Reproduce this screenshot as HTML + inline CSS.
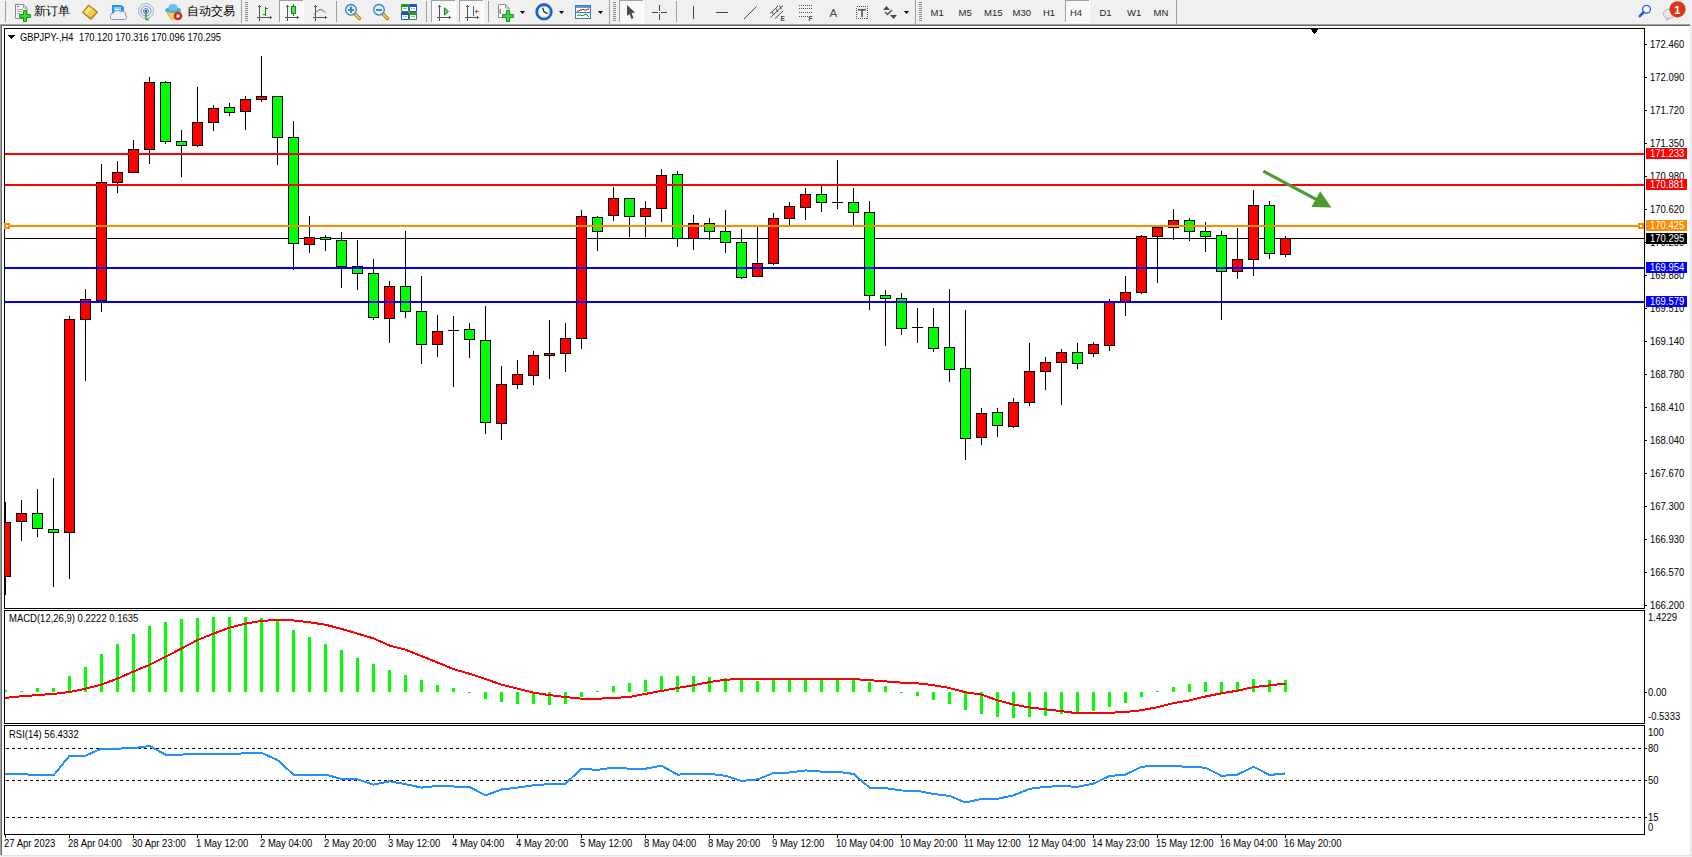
<!DOCTYPE html>
<html><head><meta charset="utf-8"><title>MT4</title>
<style>
html,body{margin:0;padding:0;background:#f0f0f0;width:1692px;height:857px;overflow:hidden;}
svg{position:absolute;left:0;top:0;display:block;}
text{font-family:"Liberation Sans",sans-serif;}
</style></head><body>
<svg width="1692" height="857" viewBox="0 0 1692 857">
<rect x="0" y="0" width="1692" height="24" fill="#f0f0f0"/>
<g font-family="Liberation Sans, sans-serif">
<rect x="5" y="1" width="1" height="21" fill="#a0a0a0" shape-rendering="crispEdges"/>
<path d="M15.5,4.5 h8 l3.5,3.5 v10.5 h-11.5 z" fill="#fbfbfb" stroke="#8a8a8a"/><path d="M23.5,4.5 v3.5 h3.5" fill="none" stroke="#9a9a9a"/><rect x="17" y="6" width="2" height="1" fill="#777"/><rect x="17" y="9" width="6" height="1" fill="#aaa"/><rect x="17" y="11" width="5" height="1" fill="#aaa"/><rect x="17" y="13" width="3" height="1" fill="#aaa"/>
<path d="M23.5,10.5 h3 v4 h4 v3 h-4 v4 h-3 v-4 h-4 v-3 h4 z" fill="#3ad83a" stroke="#129a12" stroke-width="1"/>
<text x="34" y="15" font-size="12" font-weight="500" fill="#000">新订单</text>
<path d="M82.5,12.5 L88.5,5 L97.5,12 L91,19.5 Z" fill="#d89a20" stroke="#a8680c" stroke-width="1"/><path d="M84,12 L89,6.5 L96,12 L90.5,17.5 Z" fill="#f2cf52"/><path d="M84,12 L89,6.5 L92,9 L87,14.5 Z" fill="#f8e27a"/>
<path d="M112,5 h9 l3,2 v8 h-12 z" fill="#2a92e6"/><rect x="114" y="7" width="7" height="6" fill="#8fd0ff"/><rect x="115" y="9" width="4" height="1" fill="#fff"/><path d="M110.5,17 a3,3 0 0 1 3,-4 a4,4 0 0 1 7,-1 a3,3 0 0 1 5,3 a2.5,2.5 0 0 1 -1,4.5 h-12 a2,2 0 0 1 -2,-2.5 z" fill="#eef1f6" stroke="#8894aa" stroke-width="1"/>
<circle cx="146" cy="11" r="7.5" fill="none" stroke="#9db4dc" stroke-width="1"/><circle cx="146" cy="11" r="5" fill="none" stroke="#7a9ad0" stroke-width="1"/><circle cx="146" cy="11" r="2.5" fill="none" stroke="#5a80c4" stroke-width="1"/><circle cx="146" cy="11" r="1.3" fill="#2a58b0"/><path d="M146,12 V19.5 h3" fill="none" stroke="#2aa62a" stroke-width="1.4"/>
<path d="M166,11 L181,11 L177,19 L171,19 Z" fill="#f0d64a" stroke="#c8a830" stroke-width="0.8"/><ellipse cx="173" cy="10" rx="8" ry="3" fill="#4aa6e0"/><ellipse cx="173" cy="7.5" rx="4.5" ry="3.5" fill="#6cc0ee"/><circle cx="178" cy="16" r="4.3" fill="#d42a1a"/><rect x="176.5" y="14.5" width="3" height="3" fill="#fff"/>
<text x="187" y="15" font-size="12" font-weight="500" fill="#000">自动交易</text>
<rect x="241" y="0" width="1" height="23" fill="#a0a0a0" shape-rendering="crispEdges"/>
<rect x="245" y="2" width="3" height="1" fill="#8c8c8c" shape-rendering="crispEdges"/>
<rect x="245" y="4" width="3" height="1" fill="#8c8c8c" shape-rendering="crispEdges"/>
<rect x="245" y="6" width="3" height="1" fill="#8c8c8c" shape-rendering="crispEdges"/>
<rect x="245" y="8" width="3" height="1" fill="#8c8c8c" shape-rendering="crispEdges"/>
<rect x="245" y="10" width="3" height="1" fill="#8c8c8c" shape-rendering="crispEdges"/>
<rect x="245" y="12" width="3" height="1" fill="#8c8c8c" shape-rendering="crispEdges"/>
<rect x="245" y="14" width="3" height="1" fill="#8c8c8c" shape-rendering="crispEdges"/>
<rect x="245" y="16" width="3" height="1" fill="#8c8c8c" shape-rendering="crispEdges"/>
<rect x="245" y="18" width="3" height="1" fill="#8c8c8c" shape-rendering="crispEdges"/>
<rect x="245" y="20" width="3" height="1" fill="#8c8c8c" shape-rendering="crispEdges"/>
<g fill="#555" shape-rendering="crispEdges"><rect x="259" y="6" width="1" height="15"/><rect x="258" y="6" width="3" height="1"/><rect x="259" y="5" width="1" height="1"/><rect x="257" y="17" width="14" height="1"/><rect x="270" y="16" width="1" height="3"/><rect x="271" y="17" width="1" height="1"/></g>
<g fill="#138a13" shape-rendering="crispEdges"><rect x="265" y="7" width="1" height="9"/><rect x="266" y="8" width="2" height="1"/><rect x="263" y="14" width="2" height="1"/></g>
<rect x="279" y="0" width="25" height="22" fill="#f8f8f8" shape-rendering="crispEdges"/>
<rect x="279" y="0" width="25" height="1" fill="#a0a0a0" shape-rendering="crispEdges"/>
<rect x="279" y="0" width="1" height="22" fill="#a0a0a0" shape-rendering="crispEdges"/>
<rect x="279" y="22" width="25" height="1" fill="#ffffff" shape-rendering="crispEdges"/>
<rect x="303" y="0" width="1" height="22" fill="#ffffff" shape-rendering="crispEdges"/>
<g fill="#555" shape-rendering="crispEdges"><rect x="287" y="6" width="1" height="15"/><rect x="286" y="6" width="3" height="1"/><rect x="287" y="5" width="1" height="1"/><rect x="285" y="17" width="13" height="1"/><rect x="297" y="16" width="1" height="3"/><rect x="298" y="17" width="1" height="1"/></g>
<rect x="291.5" y="6.5" width="4" height="7" fill="#52e052" stroke="#0e8a0e"/><rect x="293" y="4" width="1" height="12" fill="#0e8a0e" shape-rendering="crispEdges"/><rect x="292" y="7" width="3" height="6" fill="#52e052" shape-rendering="crispEdges"/>
<g fill="#555" shape-rendering="crispEdges"><rect x="315" y="6" width="1" height="15"/><rect x="314" y="6" width="3" height="1"/><rect x="315" y="5" width="1" height="1"/><rect x="313" y="17" width="13" height="1"/><rect x="325" y="16" width="1" height="3"/><rect x="326" y="17" width="1" height="1"/></g>
<path d="M314,14.5 Q317.5,10 320,9.3 Q322.5,9.5 325.5,12.8" fill="none" stroke="#2a9a2a" stroke-width="1"/>
<rect x="336" y="1" width="1" height="21" fill="#a0a0a0" shape-rendering="crispEdges"/>
<path d="M355,14 L359.5,18.5" stroke="#b07818" stroke-width="3.2" stroke-linecap="round"/><path d="M355,14 L359.5,18.5" stroke="#f2d84a" stroke-width="1.6" stroke-linecap="round"/><circle cx="351" cy="9.8" r="5.3" fill="#dcf2fd" stroke="#3a82cc" stroke-width="1.3"/><rect x="348" y="9" width="6" height="2" fill="#4a8aae"/><rect x="350" y="6.5" width="2" height="6.5" fill="#4a8aae"/>
<path d="M383,14 L387.5,18.5" stroke="#b07818" stroke-width="3.2" stroke-linecap="round"/><path d="M383,14 L387.5,18.5" stroke="#f2d84a" stroke-width="1.6" stroke-linecap="round"/><circle cx="379" cy="9.8" r="5.3" fill="#dcf2fd" stroke="#3a82cc" stroke-width="1.3"/><rect x="376" y="9" width="6" height="2" fill="#4a8aae"/>
<rect x="401" y="4" width="8" height="8" rx="1" fill="#2a9a1e"/><rect x="409" y="4" width="8" height="8" rx="1" fill="#1f50d0"/><rect x="401" y="12" width="8" height="8" rx="1" fill="#1f50d0"/><rect x="409" y="12" width="8" height="8" rx="1" fill="#2a9a1e"/><g fill="#fff" shape-rendering="crispEdges"><rect x="402" y="7" width="6" height="4"/><rect x="410" y="7" width="6" height="4"/><rect x="402" y="15" width="6" height="4"/><rect x="410" y="15" width="6" height="4"/></g><g fill="#8ac88a" shape-rendering="crispEdges"><rect x="403" y="8" width="4" height="1"/><rect x="411" y="16" width="4" height="1"/></g><g fill="#8aa8e8" shape-rendering="crispEdges"><rect x="411" y="8" width="1" height="1"/><rect x="413" y="8" width="2" height="1"/><rect x="403" y="16" width="1" height="1"/><rect x="405" y="16" width="2" height="1"/></g>
<rect x="426" y="1" width="1" height="21" fill="#a0a0a0" shape-rendering="crispEdges"/>
<rect x="431" y="0" width="25" height="22" fill="#f8f8f8" shape-rendering="crispEdges"/>
<rect x="431" y="0" width="25" height="1" fill="#a0a0a0" shape-rendering="crispEdges"/>
<rect x="431" y="0" width="1" height="22" fill="#a0a0a0" shape-rendering="crispEdges"/>
<rect x="431" y="22" width="25" height="1" fill="#ffffff" shape-rendering="crispEdges"/>
<rect x="455" y="0" width="1" height="22" fill="#ffffff" shape-rendering="crispEdges"/>
<g fill="#555" shape-rendering="crispEdges"><rect x="439" y="6" width="1" height="15"/><rect x="438" y="6" width="3" height="1"/><rect x="439" y="5" width="1" height="1"/><rect x="437" y="17" width="13" height="1"/><rect x="449" y="16" width="1" height="3"/><rect x="450" y="17" width="1" height="1"/></g>
<path d="M444.5,8 L448.5,11.5 L444.5,15 Z" fill="#5ad85a" stroke="#0e8a0e" stroke-width="1"/>
<rect x="459" y="0" width="25" height="22" fill="#f8f8f8" shape-rendering="crispEdges"/>
<rect x="459" y="0" width="25" height="1" fill="#a0a0a0" shape-rendering="crispEdges"/>
<rect x="459" y="0" width="1" height="22" fill="#a0a0a0" shape-rendering="crispEdges"/>
<rect x="459" y="22" width="25" height="1" fill="#ffffff" shape-rendering="crispEdges"/>
<rect x="483" y="0" width="1" height="22" fill="#ffffff" shape-rendering="crispEdges"/>
<g fill="#555" shape-rendering="crispEdges"><rect x="467" y="6" width="1" height="15"/><rect x="466" y="6" width="3" height="1"/><rect x="467" y="5" width="1" height="1"/><rect x="465" y="17" width="13" height="1"/><rect x="477" y="16" width="1" height="3"/><rect x="478" y="17" width="1" height="1"/></g>
<rect x="473" y="6" width="1" height="10" fill="#1a6aa8" shape-rendering="crispEdges"/><path d="M474.5,11.5 L477,9.5 L477,11 L479,11 L479,12 L477,12 L477,13.5 Z" fill="#e04a10"/>
<rect x="488" y="1" width="1" height="21" fill="#a0a0a0" shape-rendering="crispEdges"/>
<path d="M498.5,4.5 h7 l3.5,3.5 v9.5 h-10.5 z" fill="#fbfbfb" stroke="#8a8a8a"/><path d="M505.5,4.5 v3.5 h3.5" fill="none" stroke="#9a9a9a"/><path d="M500.5,9 q-1,2 0,5" fill="none" stroke="#555"/>
<path d="M506.5,10.5 h3 v4 h4 v3 h-4 v4 h-3 v-4 h-4 v-3 h4 z" fill="#3ad83a" stroke="#129a12" stroke-width="1"/>
<path d="M520,11 L525,11 L522.5,14 Z" fill="#000"/>
<circle cx="544" cy="11.8" r="7.1" fill="#fbfbfb" stroke="#1b66cc" stroke-width="2.4"/><circle cx="544" cy="11.8" r="8.3" fill="none" stroke="#0f4aa0" stroke-width="0.6"/><g fill="#888"><rect x="543.5" y="6" width="1" height="1"/><rect x="543.5" y="16.5" width="1" height="1"/><rect x="538.5" y="11.3" width="1" height="1"/><rect x="548.5" y="11.3" width="1" height="1"/></g><path d="M542.6,7.6 L544,11.8 L547.6,13.6" fill="none" stroke="#222" stroke-width="1.2"/>
<path d="M559,11 L564,11 L561.5,14 Z" fill="#000"/>
<rect x="575.5" y="5.5" width="15" height="13" fill="#fff" stroke="#3a78c0"/><rect x="576" y="6" width="14" height="2" fill="#5a98dc"/><rect x="576" y="12" width="14" height="1" fill="#3a78c0"/><path d="M577,11 L579,11 L580,10 L582,10 L583,9 L584,10 L586,10 L588,9 L589,9" fill="none" stroke="#a01a10" stroke-width="1"/><path d="M577,16 L579,15 L581,15 L582,16 L584,15 L586,14 L589,17" fill="none" stroke="#1a8a1a" stroke-width="1"/>
<path d="M598,11 L603,11 L600.5,14 Z" fill="#000"/>
<rect x="609" y="0" width="1" height="24" fill="#a0a0a0" shape-rendering="crispEdges"/>
<rect x="613" y="2" width="3" height="1" fill="#8c8c8c" shape-rendering="crispEdges"/>
<rect x="613" y="4" width="3" height="1" fill="#8c8c8c" shape-rendering="crispEdges"/>
<rect x="613" y="6" width="3" height="1" fill="#8c8c8c" shape-rendering="crispEdges"/>
<rect x="613" y="8" width="3" height="1" fill="#8c8c8c" shape-rendering="crispEdges"/>
<rect x="613" y="10" width="3" height="1" fill="#8c8c8c" shape-rendering="crispEdges"/>
<rect x="613" y="12" width="3" height="1" fill="#8c8c8c" shape-rendering="crispEdges"/>
<rect x="613" y="14" width="3" height="1" fill="#8c8c8c" shape-rendering="crispEdges"/>
<rect x="613" y="16" width="3" height="1" fill="#8c8c8c" shape-rendering="crispEdges"/>
<rect x="613" y="18" width="3" height="1" fill="#8c8c8c" shape-rendering="crispEdges"/>
<rect x="613" y="20" width="3" height="1" fill="#8c8c8c" shape-rendering="crispEdges"/>
<rect x="619" y="0" width="25" height="22" fill="#f8f8f8" shape-rendering="crispEdges"/>
<rect x="619" y="0" width="25" height="1" fill="#a0a0a0" shape-rendering="crispEdges"/>
<rect x="619" y="0" width="1" height="22" fill="#a0a0a0" shape-rendering="crispEdges"/>
<rect x="619" y="22" width="25" height="1" fill="#ffffff" shape-rendering="crispEdges"/>
<rect x="643" y="0" width="1" height="22" fill="#ffffff" shape-rendering="crispEdges"/>
<path d="M627,5 L627,16 L629.5,14 L631.5,19 L633.5,18 L631.5,13 L635,12.5 Z" fill="#4a4a4a"/>
<g fill="#444" shape-rendering="crispEdges"><rect x="659" y="5" width="1" height="6"/><rect x="659" y="14" width="1" height="6"/><rect x="652" y="12" width="6" height="1"/><rect x="661" y="12" width="6" height="1"/><rect x="659" y="12" width="1" height="1"/></g>
<rect x="676" y="1" width="1" height="21" fill="#a0a0a0" shape-rendering="crispEdges"/>
<rect x="693" y="6" width="1" height="13" fill="#444" shape-rendering="crispEdges"/>
<rect x="716" y="12" width="12" height="1" fill="#444" shape-rendering="crispEdges"/>
<path d="M744,19 L756.5,6.5" stroke="#444" stroke-width="1"/>
<path d="M770,13.5 L778,6 M770.5,17.5 L783,5.5 M775,18.5 L783,11 M772,12 L774,15 M776,8.5 L778,12 M779.5,5.5 L781.5,9" stroke="#444" stroke-width="1" fill="none"/><text x="780.5" y="21" font-size="6.5" font-weight="bold" fill="#444">E</text>
<path d="M799,5.5 H813 M799,8.5 H813 M799,12.5 H813 M799,16.5 H808" stroke="#555" stroke-dasharray="1 1" fill="none" shape-rendering="crispEdges"/><text x="808.5" y="21" font-size="6.5" font-weight="bold" fill="#444">F</text>
<text x="829.5" y="17" font-size="11.5" fill="#4a4a4a">A</text>
<rect x="856.5" y="6.5" width="11" height="12" fill="none" stroke="#555" stroke-dasharray="1 1" shape-rendering="crispEdges"/><rect x="858" y="9" width="8" height="1.5" fill="#4a4a4a"/><rect x="861.3" y="9" width="1.5" height="8" fill="#4a4a4a"/>
<path d="M883,10 L886.5,6 L890,10 Z" fill="#4a4a4a"/><path d="M890,15 L893.5,19 L897,15 Z" fill="#4a4a4a"/><path d="M885,12 L887.5,14.5 L892,10" fill="none" stroke="#4a4a4a" stroke-width="1.3"/>
<path d="M904,11 L909,11 L906.5,14 Z" fill="#000"/>
<rect x="915" y="0" width="1" height="24" fill="#a0a0a0" shape-rendering="crispEdges"/>
<rect x="919" y="2" width="3" height="1" fill="#8c8c8c" shape-rendering="crispEdges"/>
<rect x="919" y="4" width="3" height="1" fill="#8c8c8c" shape-rendering="crispEdges"/>
<rect x="919" y="6" width="3" height="1" fill="#8c8c8c" shape-rendering="crispEdges"/>
<rect x="919" y="8" width="3" height="1" fill="#8c8c8c" shape-rendering="crispEdges"/>
<rect x="919" y="10" width="3" height="1" fill="#8c8c8c" shape-rendering="crispEdges"/>
<rect x="919" y="12" width="3" height="1" fill="#8c8c8c" shape-rendering="crispEdges"/>
<rect x="919" y="14" width="3" height="1" fill="#8c8c8c" shape-rendering="crispEdges"/>
<rect x="919" y="16" width="3" height="1" fill="#8c8c8c" shape-rendering="crispEdges"/>
<rect x="919" y="18" width="3" height="1" fill="#8c8c8c" shape-rendering="crispEdges"/>
<rect x="919" y="20" width="3" height="1" fill="#8c8c8c" shape-rendering="crispEdges"/>
<rect x="1065" y="0" width="25" height="22" fill="#f8f8f8" shape-rendering="crispEdges"/>
<rect x="1065" y="0" width="25" height="1" fill="#a0a0a0" shape-rendering="crispEdges"/>
<rect x="1065" y="0" width="1" height="22" fill="#a0a0a0" shape-rendering="crispEdges"/>
<rect x="1065" y="22" width="25" height="1" fill="#ffffff" shape-rendering="crispEdges"/>
<rect x="1089" y="0" width="1" height="22" fill="#ffffff" shape-rendering="crispEdges"/>
<text x="930.5" y="16" font-size="9.5" fill="#262626">M1</text>
<text x="958.5" y="16" font-size="9.5" fill="#262626">M5</text>
<text x="984" y="16" font-size="9.5" fill="#262626">M15</text>
<text x="1012.5" y="16" font-size="9.5" fill="#262626">M30</text>
<text x="1043" y="16" font-size="9.5" fill="#262626">H1</text>
<text x="1070" y="16" font-size="9.5" fill="#262626">H4</text>
<text x="1099.5" y="16" font-size="9.5" fill="#262626">D1</text>
<text x="1127" y="16" font-size="9.5" fill="#262626">W1</text>
<text x="1153.5" y="16" font-size="9.5" fill="#262626">MN</text>
<rect x="1176" y="0" width="1" height="24" fill="#a0a0a0" shape-rendering="crispEdges"/>
<circle cx="1646.5" cy="9.3" r="3.9" fill="#f4f6ff" stroke="#2a5ad8" stroke-width="1.3"/><path d="M1643.5,12.3 L1639.8,16.2" stroke="#2a5ad8" stroke-width="2.6" stroke-linecap="round"/>
<path d="M1667,18 L1666.5,20.5 L1669.5,18" fill="#c8ccd4" stroke="#999" stroke-width="0.6"/><ellipse cx="1669" cy="13.8" rx="5.8" ry="4.6" fill="#e6e8ee" stroke="#aaa" stroke-width="0.8"/><circle cx="1677.5" cy="9.3" r="8.1" fill="#dc3618"/><text x="1674.2" y="13.9" font-size="11" font-weight="bold" fill="#fff" font-family="Liberation Serif, serif">1</text>
</g>
<g shape-rendering="crispEdges" font-family="Liberation Sans, sans-serif">
<rect x="0" y="24" width="1692" height="833" fill="#ffffff"/>
<rect x="0" y="24" width="1691" height="1" fill="#a0a0a0"/>
<rect x="0" y="25" width="1690" height="1" fill="#696969"/>
<rect x="0" y="24" width="1" height="833" fill="#a0a0a0"/>
<rect x="1" y="25" width="1" height="831" fill="#696969"/>
<rect x="1690" y="24" width="1" height="833" fill="#e3e3e3"/>
<rect x="0" y="855" width="1691" height="1" fill="#e3e3e3"/>
<rect x="1691" y="24" width="1" height="833" fill="#f0f0f0"/>
<rect x="0" y="856" width="1692" height="1" fill="#f0f0f0"/>
<defs><clipPath id="main"><rect x="5" y="29" width="1639" height="579"/></clipPath><clipPath id="macd"><rect x="5" y="611" width="1639" height="112"/></clipPath><clipPath id="rsi"><rect x="5" y="726" width="1639" height="108"/></clipPath></defs>
<g clip-path="url(#main)">
<rect x="5" y="238" width="1639" height="1" fill="#000000"/>
<rect x="5" y="502" width="1" height="93" fill="#000"/>
<rect x="0" y="522" width="11" height="55" fill="#000"/>
<rect x="1" y="523" width="9" height="53" fill="#ff0000"/>
<rect x="21" y="500" width="1" height="41" fill="#000"/>
<rect x="16" y="513" width="11" height="9" fill="#000"/>
<rect x="17" y="514" width="9" height="7" fill="#ff0000"/>
<rect x="37" y="489" width="1" height="48" fill="#000"/>
<rect x="32" y="513" width="11" height="16" fill="#000"/>
<rect x="33" y="514" width="9" height="14" fill="#00ff00"/>
<rect x="53" y="478" width="1" height="109" fill="#000"/>
<rect x="48" y="529" width="11" height="4" fill="#000"/>
<rect x="49" y="530" width="9" height="2" fill="#00ff00"/>
<rect x="69" y="316" width="1" height="263" fill="#000"/>
<rect x="64" y="319" width="11" height="214" fill="#000"/>
<rect x="65" y="320" width="9" height="212" fill="#ff0000"/>
<rect x="85" y="289" width="1" height="92" fill="#000"/>
<rect x="80" y="299" width="11" height="21" fill="#000"/>
<rect x="81" y="300" width="9" height="19" fill="#ff0000"/>
<rect x="101" y="164" width="1" height="148" fill="#000"/>
<rect x="96" y="182" width="11" height="119" fill="#000"/>
<rect x="97" y="183" width="9" height="117" fill="#ff0000"/>
<rect x="117" y="161" width="1" height="32" fill="#000"/>
<rect x="112" y="172" width="11" height="11" fill="#000"/>
<rect x="113" y="173" width="9" height="9" fill="#ff0000"/>
<rect x="133" y="140" width="1" height="33" fill="#000"/>
<rect x="128" y="149" width="11" height="24" fill="#000"/>
<rect x="129" y="150" width="9" height="22" fill="#ff0000"/>
<rect x="149" y="77" width="1" height="87" fill="#000"/>
<rect x="144" y="82" width="11" height="68" fill="#000"/>
<rect x="145" y="83" width="9" height="66" fill="#ff0000"/>
<rect x="165" y="81" width="1" height="63" fill="#000"/>
<rect x="160" y="82" width="11" height="60" fill="#000"/>
<rect x="161" y="83" width="9" height="58" fill="#00ff00"/>
<rect x="181" y="130" width="1" height="47" fill="#000"/>
<rect x="176" y="141" width="11" height="5" fill="#000"/>
<rect x="177" y="142" width="9" height="3" fill="#00ff00"/>
<rect x="197" y="87" width="1" height="60" fill="#000"/>
<rect x="192" y="122" width="11" height="24" fill="#000"/>
<rect x="193" y="123" width="9" height="22" fill="#ff0000"/>
<rect x="213" y="105" width="1" height="26" fill="#000"/>
<rect x="208" y="108" width="11" height="15" fill="#000"/>
<rect x="209" y="109" width="9" height="13" fill="#ff0000"/>
<rect x="229" y="103" width="1" height="13" fill="#000"/>
<rect x="224" y="107" width="11" height="6" fill="#000"/>
<rect x="225" y="108" width="9" height="4" fill="#00ff00"/>
<rect x="245" y="96" width="1" height="34" fill="#000"/>
<rect x="240" y="99" width="11" height="13" fill="#000"/>
<rect x="241" y="100" width="9" height="11" fill="#ff0000"/>
<rect x="261" y="56" width="1" height="46" fill="#000"/>
<rect x="256" y="96" width="11" height="4" fill="#000"/>
<rect x="257" y="97" width="9" height="2" fill="#ff0000"/>
<rect x="277" y="96" width="1" height="69" fill="#000"/>
<rect x="272" y="96" width="11" height="42" fill="#000"/>
<rect x="273" y="97" width="9" height="40" fill="#00ff00"/>
<rect x="293" y="121" width="1" height="149" fill="#000"/>
<rect x="288" y="137" width="11" height="107" fill="#000"/>
<rect x="289" y="138" width="9" height="105" fill="#00ff00"/>
<rect x="309" y="216" width="1" height="37" fill="#000"/>
<rect x="304" y="237" width="11" height="8" fill="#000"/>
<rect x="305" y="238" width="9" height="6" fill="#ff0000"/>
<rect x="325" y="235" width="1" height="16" fill="#000"/>
<rect x="320" y="237" width="11" height="3" fill="#000"/>
<rect x="321" y="238" width="9" height="1" fill="#00ff00"/>
<rect x="341" y="232" width="1" height="56" fill="#000"/>
<rect x="336" y="240" width="11" height="27" fill="#000"/>
<rect x="337" y="241" width="9" height="25" fill="#00ff00"/>
<rect x="357" y="240" width="1" height="50" fill="#000"/>
<rect x="352" y="266" width="11" height="8" fill="#000"/>
<rect x="353" y="267" width="9" height="6" fill="#00ff00"/>
<rect x="373" y="259" width="1" height="61" fill="#000"/>
<rect x="368" y="273" width="11" height="45" fill="#000"/>
<rect x="369" y="274" width="9" height="43" fill="#00ff00"/>
<rect x="389" y="281" width="1" height="62" fill="#000"/>
<rect x="384" y="286" width="11" height="33" fill="#000"/>
<rect x="385" y="287" width="9" height="31" fill="#ff0000"/>
<rect x="405" y="231" width="1" height="87" fill="#000"/>
<rect x="400" y="286" width="11" height="26" fill="#000"/>
<rect x="401" y="287" width="9" height="24" fill="#00ff00"/>
<rect x="421" y="276" width="1" height="88" fill="#000"/>
<rect x="416" y="311" width="11" height="34" fill="#000"/>
<rect x="417" y="312" width="9" height="32" fill="#00ff00"/>
<rect x="437" y="315" width="1" height="42" fill="#000"/>
<rect x="432" y="331" width="11" height="14" fill="#000"/>
<rect x="433" y="332" width="9" height="12" fill="#ff0000"/>
<rect x="453" y="316" width="1" height="71" fill="#000"/>
<rect x="448" y="330" width="11" height="1" fill="#000"/>
<rect x="469" y="323" width="1" height="35" fill="#000"/>
<rect x="464" y="329" width="11" height="11" fill="#000"/>
<rect x="465" y="330" width="9" height="9" fill="#00ff00"/>
<rect x="485" y="306" width="1" height="128" fill="#000"/>
<rect x="480" y="340" width="11" height="83" fill="#000"/>
<rect x="481" y="341" width="9" height="81" fill="#00ff00"/>
<rect x="501" y="366" width="1" height="74" fill="#000"/>
<rect x="496" y="384" width="11" height="40" fill="#000"/>
<rect x="497" y="385" width="9" height="38" fill="#ff0000"/>
<rect x="517" y="360" width="1" height="29" fill="#000"/>
<rect x="512" y="374" width="11" height="11" fill="#000"/>
<rect x="513" y="375" width="9" height="9" fill="#ff0000"/>
<rect x="533" y="351" width="1" height="34" fill="#000"/>
<rect x="528" y="355" width="11" height="21" fill="#000"/>
<rect x="529" y="356" width="9" height="19" fill="#ff0000"/>
<rect x="549" y="320" width="1" height="59" fill="#000"/>
<rect x="544" y="353" width="11" height="3" fill="#000"/>
<rect x="545" y="354" width="9" height="1" fill="#ff0000"/>
<rect x="565" y="323" width="1" height="49" fill="#000"/>
<rect x="560" y="338" width="11" height="16" fill="#000"/>
<rect x="561" y="339" width="9" height="14" fill="#ff0000"/>
<rect x="581" y="210" width="1" height="139" fill="#000"/>
<rect x="576" y="216" width="11" height="123" fill="#000"/>
<rect x="577" y="217" width="9" height="121" fill="#ff0000"/>
<rect x="597" y="216" width="1" height="35" fill="#000"/>
<rect x="592" y="217" width="11" height="15" fill="#000"/>
<rect x="593" y="218" width="9" height="13" fill="#00ff00"/>
<rect x="613" y="187" width="1" height="34" fill="#000"/>
<rect x="608" y="198" width="11" height="18" fill="#000"/>
<rect x="609" y="199" width="9" height="16" fill="#ff0000"/>
<rect x="629" y="198" width="1" height="39" fill="#000"/>
<rect x="624" y="198" width="11" height="19" fill="#000"/>
<rect x="625" y="199" width="9" height="17" fill="#00ff00"/>
<rect x="645" y="201" width="1" height="36" fill="#000"/>
<rect x="640" y="208" width="11" height="9" fill="#000"/>
<rect x="641" y="209" width="9" height="7" fill="#ff0000"/>
<rect x="661" y="169" width="1" height="53" fill="#000"/>
<rect x="656" y="175" width="11" height="34" fill="#000"/>
<rect x="657" y="176" width="9" height="32" fill="#ff0000"/>
<rect x="677" y="171" width="1" height="76" fill="#000"/>
<rect x="672" y="174" width="11" height="65" fill="#000"/>
<rect x="673" y="175" width="9" height="63" fill="#00ff00"/>
<rect x="693" y="215" width="1" height="35" fill="#000"/>
<rect x="688" y="223" width="11" height="16" fill="#000"/>
<rect x="689" y="224" width="9" height="14" fill="#ff0000"/>
<rect x="709" y="218" width="1" height="22" fill="#000"/>
<rect x="704" y="223" width="11" height="9" fill="#000"/>
<rect x="705" y="224" width="9" height="7" fill="#00ff00"/>
<rect x="725" y="210" width="1" height="43" fill="#000"/>
<rect x="720" y="231" width="11" height="12" fill="#000"/>
<rect x="721" y="232" width="9" height="10" fill="#00ff00"/>
<rect x="741" y="229" width="1" height="50" fill="#000"/>
<rect x="736" y="242" width="11" height="36" fill="#000"/>
<rect x="737" y="243" width="9" height="34" fill="#00ff00"/>
<rect x="757" y="227" width="1" height="50" fill="#000"/>
<rect x="752" y="263" width="11" height="14" fill="#000"/>
<rect x="753" y="264" width="9" height="12" fill="#ff0000"/>
<rect x="773" y="213" width="1" height="52" fill="#000"/>
<rect x="768" y="218" width="11" height="46" fill="#000"/>
<rect x="769" y="219" width="9" height="44" fill="#ff0000"/>
<rect x="789" y="202" width="1" height="23" fill="#000"/>
<rect x="784" y="206" width="11" height="13" fill="#000"/>
<rect x="785" y="207" width="9" height="11" fill="#ff0000"/>
<rect x="805" y="188" width="1" height="32" fill="#000"/>
<rect x="800" y="194" width="11" height="14" fill="#000"/>
<rect x="801" y="195" width="9" height="12" fill="#ff0000"/>
<rect x="821" y="186" width="1" height="26" fill="#000"/>
<rect x="816" y="194" width="11" height="9" fill="#000"/>
<rect x="817" y="195" width="9" height="7" fill="#00ff00"/>
<rect x="837" y="160" width="1" height="49" fill="#000"/>
<rect x="832" y="202" width="11" height="1" fill="#000"/>
<rect x="853" y="188" width="1" height="37" fill="#000"/>
<rect x="848" y="202" width="11" height="11" fill="#000"/>
<rect x="849" y="203" width="9" height="9" fill="#00ff00"/>
<rect x="869" y="201" width="1" height="109" fill="#000"/>
<rect x="864" y="212" width="11" height="84" fill="#000"/>
<rect x="865" y="213" width="9" height="82" fill="#00ff00"/>
<rect x="885" y="290" width="1" height="56" fill="#000"/>
<rect x="880" y="295" width="11" height="4" fill="#000"/>
<rect x="881" y="296" width="9" height="2" fill="#00ff00"/>
<rect x="901" y="293" width="1" height="42" fill="#000"/>
<rect x="896" y="298" width="11" height="31" fill="#000"/>
<rect x="897" y="299" width="9" height="29" fill="#00ff00"/>
<rect x="917" y="308" width="1" height="35" fill="#000"/>
<rect x="912" y="327" width="11" height="1" fill="#000"/>
<rect x="933" y="308" width="1" height="44" fill="#000"/>
<rect x="928" y="327" width="11" height="22" fill="#000"/>
<rect x="929" y="328" width="9" height="20" fill="#00ff00"/>
<rect x="949" y="289" width="1" height="93" fill="#000"/>
<rect x="944" y="347" width="11" height="23" fill="#000"/>
<rect x="945" y="348" width="9" height="21" fill="#00ff00"/>
<rect x="965" y="310" width="1" height="150" fill="#000"/>
<rect x="960" y="368" width="11" height="71" fill="#000"/>
<rect x="961" y="369" width="9" height="69" fill="#00ff00"/>
<rect x="981" y="408" width="1" height="37" fill="#000"/>
<rect x="976" y="413" width="11" height="25" fill="#000"/>
<rect x="977" y="414" width="9" height="23" fill="#ff0000"/>
<rect x="997" y="408" width="1" height="29" fill="#000"/>
<rect x="992" y="412" width="11" height="14" fill="#000"/>
<rect x="993" y="413" width="9" height="12" fill="#00ff00"/>
<rect x="1013" y="398" width="1" height="30" fill="#000"/>
<rect x="1008" y="402" width="11" height="25" fill="#000"/>
<rect x="1009" y="403" width="9" height="23" fill="#ff0000"/>
<rect x="1029" y="343" width="1" height="63" fill="#000"/>
<rect x="1024" y="371" width="11" height="32" fill="#000"/>
<rect x="1025" y="372" width="9" height="30" fill="#ff0000"/>
<rect x="1045" y="357" width="1" height="33" fill="#000"/>
<rect x="1040" y="362" width="11" height="10" fill="#000"/>
<rect x="1041" y="363" width="9" height="8" fill="#ff0000"/>
<rect x="1061" y="349" width="1" height="56" fill="#000"/>
<rect x="1056" y="352" width="11" height="11" fill="#000"/>
<rect x="1057" y="353" width="9" height="9" fill="#ff0000"/>
<rect x="1077" y="343" width="1" height="26" fill="#000"/>
<rect x="1072" y="352" width="11" height="12" fill="#000"/>
<rect x="1073" y="353" width="9" height="10" fill="#00ff00"/>
<rect x="1093" y="342" width="1" height="15" fill="#000"/>
<rect x="1088" y="344" width="11" height="10" fill="#000"/>
<rect x="1089" y="345" width="9" height="8" fill="#ff0000"/>
<rect x="1109" y="299" width="1" height="52" fill="#000"/>
<rect x="1104" y="302" width="11" height="44" fill="#000"/>
<rect x="1105" y="303" width="9" height="42" fill="#ff0000"/>
<rect x="1125" y="276" width="1" height="40" fill="#000"/>
<rect x="1120" y="292" width="11" height="10" fill="#000"/>
<rect x="1121" y="293" width="9" height="8" fill="#ff0000"/>
<rect x="1141" y="235" width="1" height="59" fill="#000"/>
<rect x="1136" y="236" width="11" height="57" fill="#000"/>
<rect x="1137" y="237" width="9" height="55" fill="#ff0000"/>
<rect x="1157" y="227" width="1" height="56" fill="#000"/>
<rect x="1152" y="227" width="11" height="10" fill="#000"/>
<rect x="1153" y="228" width="9" height="8" fill="#ff0000"/>
<rect x="1173" y="209" width="1" height="31" fill="#000"/>
<rect x="1168" y="220" width="11" height="8" fill="#000"/>
<rect x="1169" y="221" width="9" height="6" fill="#ff0000"/>
<rect x="1189" y="218" width="1" height="23" fill="#000"/>
<rect x="1184" y="220" width="11" height="12" fill="#000"/>
<rect x="1185" y="221" width="9" height="10" fill="#00ff00"/>
<rect x="1205" y="222" width="1" height="30" fill="#000"/>
<rect x="1200" y="231" width="11" height="6" fill="#000"/>
<rect x="1201" y="232" width="9" height="4" fill="#00ff00"/>
<rect x="1221" y="231" width="1" height="89" fill="#000"/>
<rect x="1216" y="235" width="11" height="37" fill="#000"/>
<rect x="1217" y="236" width="9" height="35" fill="#00ff00"/>
<rect x="1237" y="228" width="1" height="51" fill="#000"/>
<rect x="1232" y="259" width="11" height="13" fill="#000"/>
<rect x="1233" y="260" width="9" height="11" fill="#ff0000"/>
<rect x="1253" y="190" width="1" height="86" fill="#000"/>
<rect x="1248" y="205" width="11" height="55" fill="#000"/>
<rect x="1249" y="206" width="9" height="53" fill="#ff0000"/>
<rect x="1269" y="201" width="1" height="58" fill="#000"/>
<rect x="1264" y="205" width="11" height="49" fill="#000"/>
<rect x="1265" y="206" width="9" height="47" fill="#00ff00"/>
<rect x="1285" y="236" width="1" height="21" fill="#000"/>
<rect x="1280" y="238" width="11" height="17" fill="#000"/>
<rect x="1281" y="239" width="9" height="15" fill="#ff0000"/>
<rect x="5" y="153" width="1639" height="2" fill="#ff0000"/>
<rect x="5" y="184" width="1639" height="2" fill="#ff0000"/>
<rect x="5" y="225" width="1639" height="2" fill="#ff8c00"/>
<rect x="5" y="267" width="1639" height="2" fill="#0000ff"/>
<rect x="5" y="301" width="1639" height="2" fill="#0000ff"/>
</g>
<g shape-rendering="geometricPrecision"><line x1="1263.3" y1="171.2" x2="1318" y2="200.3" stroke="#4e9a2e" stroke-width="3.1"/><path d="M1311.4,207 L1320.2,191.3 L1331.4,207.6 Z" fill="#4e9a2e"/></g>
<rect x="4" y="28" width="1641" height="1" fill="#000"/>
<rect x="4" y="608" width="1641" height="1" fill="#000"/>
<rect x="4" y="28" width="1" height="581" fill="#000"/>
<rect x="1644" y="28" width="1" height="581" fill="#000"/>
<rect x="4" y="610" width="1641" height="1" fill="#000"/>
<rect x="4" y="723" width="1641" height="1" fill="#000"/>
<rect x="4" y="610" width="1" height="114" fill="#000"/>
<rect x="1644" y="610" width="1" height="114" fill="#000"/>
<rect x="4" y="725" width="1641" height="1" fill="#000"/>
<rect x="4" y="834" width="1641" height="1" fill="#000"/>
<rect x="4" y="725" width="1" height="110" fill="#000"/>
<rect x="1644" y="725" width="1" height="110" fill="#000"/>
<rect x="4" y="223" width="6" height="6" fill="#ff8c00"/>
<rect x="6" y="225" width="2" height="2" fill="#ffffff"/>
<rect x="1638" y="223" width="6" height="6" fill="#ff8c00"/>
<rect x="1640" y="225" width="2" height="2" fill="#ffffff"/>
<path d="M1309.5,28 L1319.5,28 L1314.5,34 Z" fill="#000"/>
<path d="M8,35 L15,35 L11.5,39 Z" fill="#000"/>
<text transform="translate(20,40.5) scale(0.93,1)" font-size="10" fill="#000" >GBPJPY-,H4</text>
<text transform="translate(79,40.5) scale(0.93,1)" font-size="10" fill="#000" >170.120 170.316 170.096 170.295</text>
<rect x="1645" y="44" width="2" height="1" fill="#000"/>
<text transform="translate(1650,48) scale(0.95,1)" font-size="10" fill="#000" >172.460</text>
<rect x="1645" y="77" width="2" height="1" fill="#000"/>
<text transform="translate(1650,81) scale(0.95,1)" font-size="10" fill="#000" >172.090</text>
<rect x="1645" y="110" width="2" height="1" fill="#000"/>
<text transform="translate(1650,114) scale(0.95,1)" font-size="10" fill="#000" >171.720</text>
<rect x="1645" y="143" width="2" height="1" fill="#000"/>
<text transform="translate(1650,147) scale(0.95,1)" font-size="10" fill="#000" >171.350</text>
<rect x="1645" y="176" width="2" height="1" fill="#000"/>
<text transform="translate(1650,180) scale(0.95,1)" font-size="10" fill="#000" >170.980</text>
<rect x="1645" y="209" width="2" height="1" fill="#000"/>
<text transform="translate(1650,213) scale(0.95,1)" font-size="10" fill="#000" >170.620</text>
<rect x="1645" y="242" width="2" height="1" fill="#000"/>
<text transform="translate(1650,246) scale(0.95,1)" font-size="10" fill="#000" >170.250</text>
<rect x="1645" y="275" width="2" height="1" fill="#000"/>
<text transform="translate(1650,279) scale(0.95,1)" font-size="10" fill="#000" >169.880</text>
<rect x="1645" y="308" width="2" height="1" fill="#000"/>
<text transform="translate(1650,312) scale(0.95,1)" font-size="10" fill="#000" >169.510</text>
<rect x="1645" y="341" width="2" height="1" fill="#000"/>
<text transform="translate(1650,345) scale(0.95,1)" font-size="10" fill="#000" >169.140</text>
<rect x="1645" y="374" width="2" height="1" fill="#000"/>
<text transform="translate(1650,378) scale(0.95,1)" font-size="10" fill="#000" >168.780</text>
<rect x="1645" y="407" width="2" height="1" fill="#000"/>
<text transform="translate(1650,411) scale(0.95,1)" font-size="10" fill="#000" >168.410</text>
<rect x="1645" y="440" width="2" height="1" fill="#000"/>
<text transform="translate(1650,444) scale(0.95,1)" font-size="10" fill="#000" >168.040</text>
<rect x="1645" y="473" width="2" height="1" fill="#000"/>
<text transform="translate(1650,477) scale(0.95,1)" font-size="10" fill="#000" >167.670</text>
<rect x="1645" y="506" width="2" height="1" fill="#000"/>
<text transform="translate(1650,510) scale(0.95,1)" font-size="10" fill="#000" >167.300</text>
<rect x="1645" y="539" width="2" height="1" fill="#000"/>
<text transform="translate(1650,543) scale(0.95,1)" font-size="10" fill="#000" >166.930</text>
<rect x="1645" y="572" width="2" height="1" fill="#000"/>
<text transform="translate(1650,576) scale(0.95,1)" font-size="10" fill="#000" >166.570</text>
<rect x="1645" y="605" width="2" height="1" fill="#000"/>
<text transform="translate(1650,609) scale(0.95,1)" font-size="10" fill="#000" >166.200</text>
<rect x="1646" y="148" width="41" height="11" fill="#ff0000"/>
<text transform="translate(1650,157) scale(0.95,1)" font-size="10" fill="#fff" >171.233</text>
<rect x="1646" y="179" width="41" height="11" fill="#ff0000"/>
<text transform="translate(1650,188) scale(0.95,1)" font-size="10" fill="#fff" >170.881</text>
<rect x="1646" y="220" width="41" height="11" fill="#ff8c00"/>
<text transform="translate(1650,229) scale(0.95,1)" font-size="10" fill="#fff" >170.425</text>
<rect x="1646" y="233" width="41" height="11" fill="#000000"/>
<text transform="translate(1650,242) scale(0.95,1)" font-size="10" fill="#fff" >170.295</text>
<rect x="1646" y="262" width="41" height="11" fill="#0000ff"/>
<text transform="translate(1650,271) scale(0.95,1)" font-size="10" fill="#fff" >169.954</text>
<rect x="1646" y="296" width="41" height="11" fill="#0000ff"/>
<text transform="translate(1650,305) scale(0.95,1)" font-size="10" fill="#fff" >169.579</text>
<g clip-path="url(#macd)">
<rect x="4" y="690" width="3" height="2" fill="#00ff00"/>
<rect x="20" y="691" width="3" height="1" fill="#00ff00"/>
<rect x="36" y="688" width="3" height="4" fill="#00ff00"/>
<rect x="52" y="688" width="3" height="4" fill="#00ff00"/>
<rect x="68" y="676" width="3" height="16" fill="#00ff00"/>
<rect x="84" y="667" width="3" height="25" fill="#00ff00"/>
<rect x="100" y="654" width="3" height="38" fill="#00ff00"/>
<rect x="116" y="644" width="3" height="48" fill="#00ff00"/>
<rect x="132" y="634" width="3" height="58" fill="#00ff00"/>
<rect x="148" y="626" width="3" height="66" fill="#00ff00"/>
<rect x="164" y="622" width="3" height="70" fill="#00ff00"/>
<rect x="180" y="619" width="3" height="73" fill="#00ff00"/>
<rect x="196" y="618" width="3" height="74" fill="#00ff00"/>
<rect x="212" y="617" width="3" height="75" fill="#00ff00"/>
<rect x="228" y="617" width="3" height="75" fill="#00ff00"/>
<rect x="244" y="617" width="3" height="75" fill="#00ff00"/>
<rect x="260" y="618" width="3" height="74" fill="#00ff00"/>
<rect x="276" y="620" width="3" height="72" fill="#00ff00"/>
<rect x="292" y="630" width="3" height="62" fill="#00ff00"/>
<rect x="308" y="637" width="3" height="55" fill="#00ff00"/>
<rect x="324" y="644" width="3" height="48" fill="#00ff00"/>
<rect x="340" y="650" width="3" height="42" fill="#00ff00"/>
<rect x="356" y="658" width="3" height="34" fill="#00ff00"/>
<rect x="372" y="664" width="3" height="28" fill="#00ff00"/>
<rect x="388" y="670" width="3" height="22" fill="#00ff00"/>
<rect x="404" y="675" width="3" height="17" fill="#00ff00"/>
<rect x="420" y="680" width="3" height="12" fill="#00ff00"/>
<rect x="436" y="685" width="3" height="7" fill="#00ff00"/>
<rect x="452" y="688" width="3" height="4" fill="#00ff00"/>
<rect x="468" y="692" width="3" height="1" fill="#00ff00"/>
<rect x="484" y="692" width="3" height="7" fill="#00ff00"/>
<rect x="500" y="692" width="3" height="10" fill="#00ff00"/>
<rect x="516" y="692" width="3" height="12" fill="#00ff00"/>
<rect x="532" y="692" width="3" height="12" fill="#00ff00"/>
<rect x="548" y="692" width="3" height="13" fill="#00ff00"/>
<rect x="564" y="692" width="3" height="12" fill="#00ff00"/>
<rect x="580" y="692" width="3" height="5" fill="#00ff00"/>
<rect x="596" y="691" width="3" height="1" fill="#00ff00"/>
<rect x="612" y="686" width="3" height="6" fill="#00ff00"/>
<rect x="628" y="683" width="3" height="9" fill="#00ff00"/>
<rect x="644" y="680" width="3" height="12" fill="#00ff00"/>
<rect x="660" y="676" width="3" height="16" fill="#00ff00"/>
<rect x="676" y="676" width="3" height="16" fill="#00ff00"/>
<rect x="692" y="676" width="3" height="16" fill="#00ff00"/>
<rect x="708" y="677" width="3" height="15" fill="#00ff00"/>
<rect x="724" y="678" width="3" height="14" fill="#00ff00"/>
<rect x="740" y="680" width="3" height="12" fill="#00ff00"/>
<rect x="756" y="681" width="3" height="11" fill="#00ff00"/>
<rect x="772" y="680" width="3" height="12" fill="#00ff00"/>
<rect x="788" y="679" width="3" height="13" fill="#00ff00"/>
<rect x="804" y="679" width="3" height="13" fill="#00ff00"/>
<rect x="820" y="679" width="3" height="13" fill="#00ff00"/>
<rect x="836" y="679" width="3" height="13" fill="#00ff00"/>
<rect x="852" y="678" width="3" height="14" fill="#00ff00"/>
<rect x="868" y="682" width="3" height="10" fill="#00ff00"/>
<rect x="884" y="686" width="3" height="6" fill="#00ff00"/>
<rect x="900" y="692" width="3" height="1" fill="#00ff00"/>
<rect x="916" y="692" width="3" height="4" fill="#00ff00"/>
<rect x="932" y="692" width="3" height="8" fill="#00ff00"/>
<rect x="948" y="692" width="3" height="12" fill="#00ff00"/>
<rect x="964" y="692" width="3" height="18" fill="#00ff00"/>
<rect x="980" y="692" width="3" height="22" fill="#00ff00"/>
<rect x="996" y="692" width="3" height="25" fill="#00ff00"/>
<rect x="1012" y="692" width="3" height="26" fill="#00ff00"/>
<rect x="1028" y="692" width="3" height="25" fill="#00ff00"/>
<rect x="1044" y="692" width="3" height="24" fill="#00ff00"/>
<rect x="1060" y="692" width="3" height="22" fill="#00ff00"/>
<rect x="1076" y="692" width="3" height="22" fill="#00ff00"/>
<rect x="1092" y="692" width="3" height="19" fill="#00ff00"/>
<rect x="1108" y="692" width="3" height="15" fill="#00ff00"/>
<rect x="1124" y="692" width="3" height="11" fill="#00ff00"/>
<rect x="1140" y="692" width="3" height="5" fill="#00ff00"/>
<rect x="1156" y="691" width="3" height="1" fill="#00ff00"/>
<rect x="1172" y="687" width="3" height="5" fill="#00ff00"/>
<rect x="1188" y="684" width="3" height="8" fill="#00ff00"/>
<rect x="1204" y="682" width="3" height="10" fill="#00ff00"/>
<rect x="1220" y="682" width="3" height="10" fill="#00ff00"/>
<rect x="1236" y="682" width="3" height="10" fill="#00ff00"/>
<rect x="1252" y="679" width="3" height="13" fill="#00ff00"/>
<rect x="1268" y="680" width="3" height="12" fill="#00ff00"/>
<rect x="1284" y="680" width="3" height="12" fill="#00ff00"/>
<polyline points="4,698 21.5,696.3 37.5,695.1 53.5,693.9 69.5,692 85.5,688.7 101.5,684.5 117.5,678.6 133.5,671.5 149.5,664.8 165.5,656.8 181.5,648.5 197.5,640 213.5,633.6 229.5,627.7 245.5,623.7 261.5,620.9 277.5,619.9 293.5,620.4 309.5,622.3 325.5,624.7 341.5,628.9 357.5,633.6 373.5,638.4 389.5,645.5 405.5,649.7 421.5,656.1 437.5,662.5 453.5,669.1 469.5,673.8 485.5,679 501.5,684.7 517.5,688.7 533.5,692.7 549.5,695.1 565.5,697 581.5,698.7 597.5,698.7 613.5,698 629.5,697 645.5,693.9 661.5,690.9 677.5,688 693.5,685.2 709.5,682.1 725.5,679.7 741.5,679 757.5,679 773.5,679 789.5,679 805.5,679 821.5,679 837.5,679 853.5,679 869.5,680.2 885.5,681.4 901.5,682.6 917.5,683.3 933.5,685.2 949.5,688 965.5,692.3 981.5,694.6 997.5,700.3 1013.5,704.6 1029.5,707.4 1045.5,709.3 1061.5,711.2 1077.5,713.3 1093.5,713.3 1109.5,712.8 1125.5,712 1141.5,710.2 1157.5,707.2 1173.5,703.1 1189.5,700.4 1205.5,696.5 1221.5,693.3 1237.5,690.7 1253.5,687.1 1269.5,685.4 1285.5,683.6" fill="none" stroke="#ff0000" stroke-width="2" stroke-linejoin="round"/>
</g>
<text transform="translate(9,622) scale(0.95,1)" font-size="10" fill="#000" >MACD(12,26,9) 0.2222 0.1635</text>
<text transform="translate(1648,621) scale(0.95,1)" font-size="10" fill="#000" >1.4229</text>
<text transform="translate(1648,695.5) scale(0.95,1)" font-size="10" fill="#000" >0.00</text>
<text transform="translate(1648,719.5) scale(0.95,1)" font-size="10" fill="#000" >-0.5333</text>
<rect x="1645" y="692" width="2" height="1" fill="#000"/>
<g clip-path="url(#rsi)">
<line x1="6" y1="748.5" x2="1644" y2="748.5" stroke="#000" stroke-width="1" stroke-dasharray="3 3"/>
<line x1="6" y1="780.5" x2="1644" y2="780.5" stroke="#000" stroke-width="1" stroke-dasharray="3 3"/>
<line x1="6" y1="817.5" x2="1644" y2="817.5" stroke="#000" stroke-width="1" stroke-dasharray="3 3"/>
<polyline points="4.5,773.9 21.5,773.9 37.5,775.4 53.5,775.4 69.5,755.7 85.5,755.7 101.5,748.6 117.5,748.6 133.5,748.2 149.5,746 165.5,754.6 181.5,754.6 197.5,753.8 213.5,753.8 229.5,753.8 245.5,753.4 261.5,752.9 277.5,760 293.5,774.6 309.5,774.6 325.5,774.6 341.5,778.9 357.5,779.4 373.5,784.6 389.5,781.3 405.5,784.1 421.5,787.6 437.5,786 453.5,786.5 469.5,786.9 485.5,795.4 501.5,789.5 517.5,787.6 533.5,785.3 549.5,784.1 565.5,783.6 581.5,768.7 597.5,769.9 613.5,767.6 629.5,768.7 645.5,768.7 661.5,765.7 677.5,774.6 693.5,773.9 709.5,773.9 725.5,775.8 741.5,781 757.5,779.4 773.5,773 789.5,772.5 805.5,770.4 821.5,771.6 837.5,771.8 853.5,773.9 869.5,787.6 885.5,788.1 901.5,790.5 917.5,790.7 933.5,794 949.5,795.9 965.5,802.5 981.5,799 997.5,798.8 1013.5,795.4 1029.5,788.8 1045.5,786.9 1061.5,786 1077.5,786.9 1093.5,783.6 1109.5,776 1125.5,774.6 1141.5,766.7 1157.5,765.8 1173.5,765.8 1189.5,767.2 1205.5,767.6 1221.5,775.9 1237.5,774.6 1253.5,766.7 1269.5,775 1285.5,773.4" fill="none" stroke="#1e90ff" stroke-width="2" stroke-linejoin="round"/>
</g>
<text transform="translate(9,737.5) scale(0.95,1)" font-size="10" fill="#000" >RSI(14) 56.4332</text>
<text transform="translate(1648,735.5) scale(0.95,1)" font-size="10" fill="#000" >100</text>
<text transform="translate(1648,751.5) scale(0.95,1)" font-size="10" fill="#000" >80</text>
<text transform="translate(1648,783.5) scale(0.95,1)" font-size="10" fill="#000" >50</text>
<text transform="translate(1648,820.5) scale(0.95,1)" font-size="10" fill="#000" >15</text>
<text transform="translate(1648,830.5) scale(0.95,1)" font-size="10" fill="#000" >0</text>
<rect x="1645" y="748" width="2" height="1" fill="#000"/>
<rect x="1645" y="780" width="2" height="1" fill="#000"/>
<rect x="1645" y="817" width="2" height="1" fill="#000"/>
<rect x="5" y="835" width="1" height="3" fill="#000"/>
<text transform="translate(4,847) scale(0.95,1)" font-size="10" fill="#000" >27 Apr 2023</text>
<rect x="69" y="835" width="1" height="3" fill="#000"/>
<text transform="translate(68,847) scale(0.95,1)" font-size="10" fill="#000" >28 Apr 04:00</text>
<rect x="133" y="835" width="1" height="3" fill="#000"/>
<text transform="translate(132,847) scale(0.95,1)" font-size="10" fill="#000" >30 Apr 23:00</text>
<rect x="197" y="835" width="1" height="3" fill="#000"/>
<text transform="translate(196,847) scale(0.95,1)" font-size="10" fill="#000" >1 May 12:00</text>
<rect x="261" y="835" width="1" height="3" fill="#000"/>
<text transform="translate(260,847) scale(0.95,1)" font-size="10" fill="#000" >2 May 04:00</text>
<rect x="325" y="835" width="1" height="3" fill="#000"/>
<text transform="translate(324,847) scale(0.95,1)" font-size="10" fill="#000" >2 May 20:00</text>
<rect x="389" y="835" width="1" height="3" fill="#000"/>
<text transform="translate(388,847) scale(0.95,1)" font-size="10" fill="#000" >3 May 12:00</text>
<rect x="453" y="835" width="1" height="3" fill="#000"/>
<text transform="translate(452,847) scale(0.95,1)" font-size="10" fill="#000" >4 May 04:00</text>
<rect x="517" y="835" width="1" height="3" fill="#000"/>
<text transform="translate(516,847) scale(0.95,1)" font-size="10" fill="#000" >4 May 20:00</text>
<rect x="581" y="835" width="1" height="3" fill="#000"/>
<text transform="translate(580,847) scale(0.95,1)" font-size="10" fill="#000" >5 May 12:00</text>
<rect x="645" y="835" width="1" height="3" fill="#000"/>
<text transform="translate(644,847) scale(0.95,1)" font-size="10" fill="#000" >8 May 04:00</text>
<rect x="709" y="835" width="1" height="3" fill="#000"/>
<text transform="translate(708,847) scale(0.95,1)" font-size="10" fill="#000" >8 May 20:00</text>
<rect x="773" y="835" width="1" height="3" fill="#000"/>
<text transform="translate(772,847) scale(0.95,1)" font-size="10" fill="#000" >9 May 12:00</text>
<rect x="837" y="835" width="1" height="3" fill="#000"/>
<text transform="translate(836,847) scale(0.95,1)" font-size="10" fill="#000" >10 May 04:00</text>
<rect x="901" y="835" width="1" height="3" fill="#000"/>
<text transform="translate(900,847) scale(0.95,1)" font-size="10" fill="#000" >10 May 20:00</text>
<rect x="965" y="835" width="1" height="3" fill="#000"/>
<text transform="translate(964,847) scale(0.95,1)" font-size="10" fill="#000" >11 May 12:00</text>
<rect x="1029" y="835" width="1" height="3" fill="#000"/>
<text transform="translate(1028,847) scale(0.95,1)" font-size="10" fill="#000" >12 May 04:00</text>
<rect x="1093" y="835" width="1" height="3" fill="#000"/>
<text transform="translate(1092,847) scale(0.95,1)" font-size="10" fill="#000" >14 May 23:00</text>
<rect x="1157" y="835" width="1" height="3" fill="#000"/>
<text transform="translate(1156,847) scale(0.95,1)" font-size="10" fill="#000" >15 May 12:00</text>
<rect x="1221" y="835" width="1" height="3" fill="#000"/>
<text transform="translate(1220,847) scale(0.95,1)" font-size="10" fill="#000" >16 May 04:00</text>
<rect x="1285" y="835" width="1" height="3" fill="#000"/>
<text transform="translate(1284,847) scale(0.95,1)" font-size="10" fill="#000" >16 May 20:00</text>
</g>
</svg>
</body></html>
